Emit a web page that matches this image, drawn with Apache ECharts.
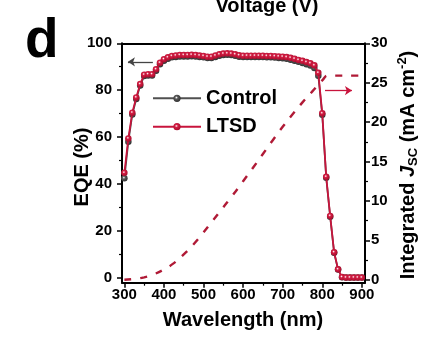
<!DOCTYPE html>
<html>
<head>
<meta charset="utf-8">
<script src="https://cdn.jsdelivr.net/npm/echarts@6/dist/echarts.min.js"></script>
<style>
  html, body { margin: 0; padding: 0; background: #fff; }
  #chart { width: 436px; height: 342px; }
</style>
</head>
<body>
<div id="chart"></div>
<script>
// Wavelength grid of the EQE scans (nm)
const wavelengths = [
  300, 310, 320, 330, 340, 350, 360, 370, 380, 390,
  400, 410, 420, 430, 440, 450, 460, 470, 480, 490,
  500, 510, 520, 530, 540, 550, 560, 570, 580, 590,
  600, 610, 620, 630, 640, 650, 660, 670, 680, 690,
  700, 710, 720, 730, 740, 750, 760, 770, 780, 790,
  800, 810, 820, 830, 840, 850, 860, 870, 880, 890, 900
];

// EQE (%) of the control device
const eqeControl = [
  42.4, 58.0, 69.6, 76.2, 82.0, 86.0, 86.3, 86.3, 88.3, 91.1,
  92.6, 93.4, 94.0, 94.2, 94.4, 94.4, 94.4, 94.5, 94.4, 94.2,
  94.0, 93.7, 93.7, 94.2, 94.7, 95.0, 95.1, 95.0, 94.7, 94.3,
  94.1, 94.1, 94.1, 94.1, 94.1, 94.1, 94.0, 94.0, 93.9, 93.7,
  93.6, 93.4, 93.0, 92.6, 92.1, 91.6, 91.1, 90.5, 89.5, 86.2,
  69.5, 42.6, 26.0, 10.6, 3.4, 0.1, 0, 0, 0, 0, 0
];

// EQE (%) of the LTSD device
const eqeLTSD = [
  44.7, 59.4, 70.4, 76.9, 82.6, 86.6, 86.8, 86.8, 88.9, 91.7,
  93.2, 94.0, 94.6, 94.8, 95.0, 95.0, 95.0, 95.1, 95.0, 94.8,
  94.6, 94.3, 94.3, 94.8, 95.3, 95.6, 95.7, 95.6, 95.3, 94.9,
  94.7, 94.7, 94.7, 94.7, 94.7, 94.7, 94.6, 94.6, 94.5, 94.4,
  94.3, 94.1, 93.8, 93.4, 92.9, 92.5, 92.0, 91.5, 90.6, 87.4,
  70.1, 43.0, 26.3, 10.8, 3.5, 0.2, 0, 0, 0, 0, 0
];

// Integrated Jsc (mA cm^-2) sampled along the spectrum
const jscWavelengths = [
  300, 325, 350, 375, 400, 425, 450, 475, 500, 525, 550, 575, 600,
  625, 650, 675, 700, 725, 750, 775, 800, 815, 850, 875, 900
];
const jscLTSD = [
  0, 0.1, 0.3, 0.7, 1.3, 2.1, 3.2, 4.5, 6.0, 7.6, 9.2, 10.8, 12.5,
  14.2, 15.95, 17.7, 19.4, 21.0, 22.5, 23.9, 25.3, 25.9, 25.9, 25.9, 25.9
];

// Tick positions
const xTicks = [300, 400, 500, 600, 700, 800, 900];
const xMinorTicks = [350, 450, 550, 650, 750, 850];
const eqeTicks = [0, 20, 40, 60, 80, 100];
const eqeMinorTicks = [10, 30, 50, 70, 90];
const jscTicks = [0, 5, 10, 15, 20, 25, 30];
const jscMinorTicks = [2.5, 7.5, 12.5, 17.5, 22.5, 27.5];

const FONT = '"Liberation Sans", Arial, Helvetica, sans-serif';
const RED = '#c8143c';
const DASH_RED = '#b01a36';
const GRAY = '#505050';

function ball(base, dark) {
  return {
    type: 'radial', x: 0.42, y: 0.4, r: 0.6,
    colorStops: [
      { offset: 0, color: '#ffffff' },
      { offset: 0.35, color: base },
      { offset: 1, color: dark }
    ]
  };
}

const pairs = (xs, ys) => xs.map((x, i) => [x, ys[i]]);

const chart = echarts.init(document.getElementById('chart'), null, { renderer: 'canvas' });

const axisLineStyle = { color: '#000', width: 2 };
const labelStyle = { color: '#000', fontFamily: FONT, fontWeight: 'bold', fontSize: 15 };

chart.setOption({
  animation: false,
  backgroundColor: '#fff',
  grid: { left: 122, right: 71, top: 43.3, bottom: 59.3, containLabel: false },
  legend: {
    data: ['Control', 'LTSD'],
    orient: 'vertical',
    left: 152,
    top: 88.3,
    padding: 0,
    itemWidth: 48,
    itemHeight: 9,
    itemGap: 8.4,
    textStyle: { color: '#000', fontFamily: FONT, fontWeight: 'bold', fontSize: 20 }
  },
  xAxis: [
    {
      type: 'value', position: 'bottom', min: 294, max: 908,
      axisLine: { onZero: false, lineStyle: axisLineStyle },
      axisTick: { customValues: xTicks, inside: false, length: 5, lineStyle: { color: '#000', width: 1.5 } },
      axisLabel: Object.assign({ customValues: xTicks, margin: 5 }, labelStyle),
      splitLine: { show: false }
    },
    {
      type: 'value', position: 'bottom', min: 294, max: 908,
      axisLine: { show: false, onZero: false },
      axisTick: { customValues: xMinorTicks, inside: false, length: 3, lineStyle: { color: '#000', width: 1.2 } },
      axisLabel: { show: false },
      splitLine: { show: false }
    },
    {
      type: 'value', position: 'top', min: 294, max: 908,
      axisLine: { show: true, onZero: false, lineStyle: axisLineStyle },
      axisTick: { show: false },
      axisLabel: { show: false },
      splitLine: { show: false }
    }
  ],
  yAxis: [
    {
      type: 'value', position: 'left', min: -2.2, max: 100,
      axisLine: { show: true, onZero: false, lineStyle: axisLineStyle },
      axisTick: { show: true, customValues: eqeTicks, inside: false, length: 5, lineStyle: { color: '#000', width: 1.5 } },
      axisLabel: Object.assign({ customValues: eqeTicks, margin: 10 }, labelStyle),
      splitLine: { show: false }
    },
    {
      type: 'value', position: 'left', min: -2.2, max: 100,
      axisLine: { show: false, onZero: false },
      axisTick: { show: true, customValues: eqeMinorTicks, inside: false, length: 3, lineStyle: { color: '#000', width: 1.2 } },
      axisLabel: { show: false },
      splitLine: { show: false }
    },
    {
      type: 'value', position: 'right', min: -0.38, max: 30,
      axisLine: { show: true, onZero: false, lineStyle: axisLineStyle },
      axisTick: { show: true, customValues: jscTicks, inside: false, length: 5, lineStyle: { color: '#000', width: 1.5 } },
      axisLabel: Object.assign({ customValues: jscTicks, margin: 6 }, labelStyle),
      splitLine: { show: false }
    },
    {
      type: 'value', position: 'right', min: -0.38, max: 30,
      axisLine: { show: false, onZero: false },
      axisTick: { show: true, customValues: jscMinorTicks, inside: false, length: 3, lineStyle: { color: '#000', width: 1.2 } },
      axisLabel: { show: false },
      splitLine: { show: false }
    }
  ],
  series: [
    {
      name: 'Integrated Jsc', type: 'line', xAxisIndex: 0, yAxisIndex: 2,
      data: pairs(jscWavelengths, jscLTSD),
      smooth: 0.5, showSymbol: false, symbol: 'none',
      lineStyle: { color: DASH_RED, width: 2.4, type: [7, 9] },
      markLine: {
        silent: true, animation: false,
        symbol: ['none', 'arrow'], symbolSize: 7,
        label: { show: false },
        lineStyle: { color: RED, width: 1.3, type: 'solid' },
        data: [[{ coord: [807, 24.0] }, { coord: [875, 24.0] }]]
      },
      z: 3
    },
    {
      name: 'Control', type: 'line', xAxisIndex: 0, yAxisIndex: 0,
      data: pairs(wavelengths, eqeControl),
      symbol: 'circle', symbolSize: 6.5,
      lineStyle: { color: GRAY, width: 1.8 },
      itemStyle: { color: ball('#5a5a5a', '#303030'), borderWidth: 0 },
      markLine: {
        silent: true, animation: false,
        symbol: ['arrow', 'none'], symbolSize: 7,
        label: { show: false },
        lineStyle: { color: '#444', width: 1.3, type: 'solid' },
        data: [[{ coord: [309, 92.1] }, { coord: [372, 92.1] }]]
      },
      z: 4
    },
    {
      name: 'LTSD', type: 'line', xAxisIndex: 0, yAxisIndex: 0,
      data: pairs(wavelengths, eqeLTSD),
      symbol: 'circle', symbolSize: 6.5,
      lineStyle: { color: RED, width: 1.8 },
      itemStyle: { color: ball('#d41e44', '#a80c2c'), borderWidth: 0 },
      z: 5
    }
  ],
  graphic: [
    {
      type: 'text', x: 267, y: 6.3, silent: true,
      style: {
        text: 'Voltage (V)', fill: '#000',
        font: 'bold 20px ' + FONT,
        align: 'center', verticalAlign: 'middle',
        textAlign: 'center', textVerticalAlign: 'middle'
      }
    },
    {
      type: 'text', x: 25, y: 42.3, silent: true,
      style: {
        text: 'd', fill: '#000',
        font: 'bold 55px ' + FONT,
        align: 'left', verticalAlign: 'middle',
        textAlign: 'left', textVerticalAlign: 'middle'
      }
    },
    {
      type: 'text', x: 243, y: 320, silent: true,
      style: {
        text: 'Wavelength (nm)', fill: '#000',
        font: 'bold 20px ' + FONT,
        align: 'center', verticalAlign: 'middle',
        textAlign: 'center', textVerticalAlign: 'middle'
      }
    },
    {
      type: 'text', x: 82, y: 167, rotation: Math.PI / 2, silent: true,
      style: {
        text: 'EQE (%)', fill: '#000',
        font: 'bold 20px ' + FONT,
        align: 'center', verticalAlign: 'middle',
        textAlign: 'center', textVerticalAlign: 'middle'
      }
    },
    {
      type: 'text', x: 408, y: 165, rotation: Math.PI / 2, silent: true,
      style: {
        text: '{a|Integrated }{j|J}{s|SC}{a| (mA cm}{p|-2}{a|)}',
        fill: '#000',
        align: 'center', verticalAlign: 'middle',
        textAlign: 'center', textVerticalAlign: 'middle',
        rich: {
          a: { fontFamily: FONT, fontWeight: 'bold', fontSize: 20, lineHeight: 24, fill: '#000' },
          j: { fontFamily: FONT, fontWeight: 'bold', fontStyle: 'italic', fontSize: 20, lineHeight: 24, fill: '#000' },
          s: { fontFamily: FONT, fontWeight: 'bold', fontSize: 13, lineHeight: 13, verticalAlign: 'bottom', fill: '#000' },
          p: { fontFamily: FONT, fontWeight: 'bold', fontSize: 13, lineHeight: 13, verticalAlign: 'top', fill: '#000' }
        }
      }
    }
  ]
});
</script>
</body>
</html>
